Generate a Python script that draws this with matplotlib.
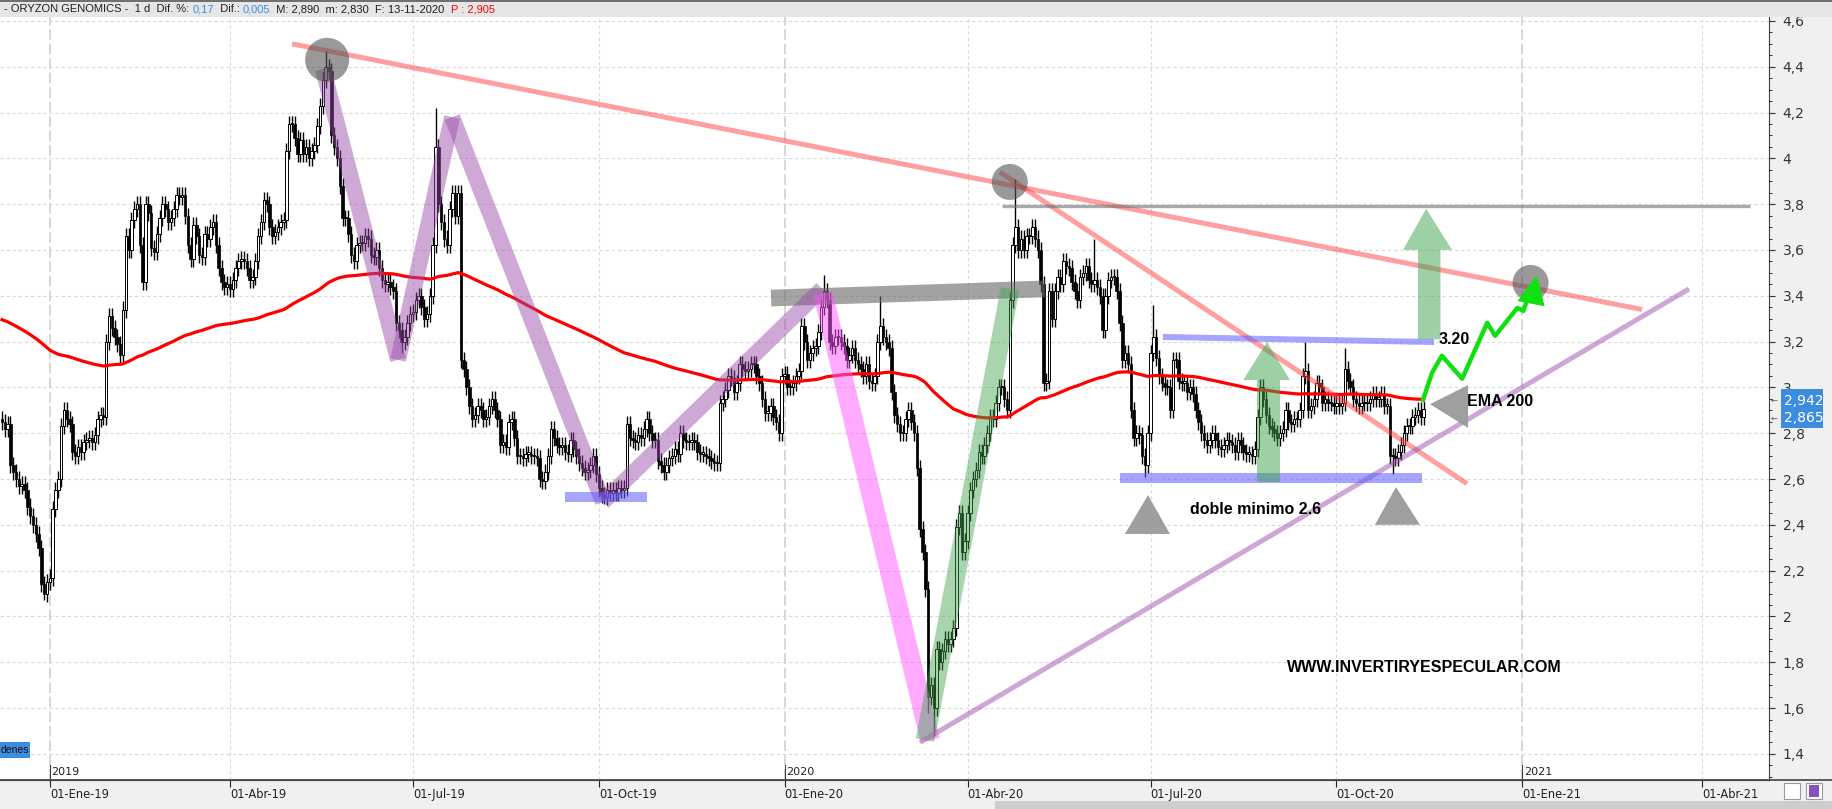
import numpy as np
import pandas as pd
import matplotlib
matplotlib.use("Agg")
import matplotlib.pyplot as plt
import matplotlib.transforms as mtransforms
from matplotlib.patches import Polygon, Rectangle


W, H = 1833, 809  # px
START = "2018-12-07"  # first bar on screen

# daily closes, one list per month
dec18 = [2.85, 2.82, 2.84, 2.66, 2.63, 2.60, 2.57, 2.58, 2.55, 2.48, 2.44, 2.40, 2.36, 2.30, 2.14, 2.10, 2.15]
jan19 = [2.17, 2.47, 2.55, 2.60, 2.83, 2.90, 2.86, 2.84, 2.72, 2.70, 2.74, 2.72, 2.76, 2.77, 2.78, 2.76, 2.79, 2.86, 2.88, 2.87, 3.20, 3.31, 3.26]
feb19 = [3.22, 3.19, 3.14, 3.34, 3.66, 3.60, 3.73, 3.78, 3.80, 3.62, 3.46, 3.80, 3.76, 3.61, 3.59, 3.67, 3.74, 3.80, 3.78, 3.72]
mar19 = [3.74, 3.78, 3.84, 3.83, 3.84, 3.75, 3.62, 3.56, 3.71, 3.66, 3.58, 3.57, 3.67, 3.65, 3.70, 3.72, 3.62, 3.52, 3.46, 3.44, 3.45]
apr19 = [3.43, 3.47, 3.52, 3.55, 3.56, 3.55, 3.52, 3.47, 3.48, 3.55, 3.66, 3.72, 3.82, 3.80, 3.70, 3.66, 3.68, 3.70, 3.72, 3.73, 4.03, 4.15]
may19 = [4.15, 4.09, 4.02, 4.08, 4.02, 4.05, 4.00, 4.03, 4.06, 4.14, 4.23, 4.34, 4.40, 4.38, 4.10, 4.05, 4.00, 3.88, 3.74, 3.74, 3.67, 3.58, 3.55]
jun19 = [3.62, 3.63, 3.63, 3.66, 3.65, 3.58, 3.57, 3.60, 3.52, 3.47, 3.45, 3.46, 3.44, 3.42, 3.28, 3.25, 3.20, 3.22, 3.28, 3.32]
jul19 = [3.33, 3.38, 3.40, 3.35, 3.30, 3.32, 3.40, 3.62, 4.05, 3.80, 3.72, 3.65, 3.62, 3.78, 3.85, 3.75, 3.85, 3.12, 3.08, 3.00, 2.92, 2.86, 2.88]
aug19 = [2.92, 2.90, 2.86, 2.87, 2.92, 2.95, 2.90, 2.86, 2.75, 2.76, 2.74, 2.85, 2.86, 2.78, 2.70, 2.70, 2.69, 2.71, 2.71, 2.70, 2.70, 2.69]
sep19 = [2.60, 2.59, 2.63, 2.70, 2.82, 2.78, 2.75, 2.74, 2.75, 2.72, 2.71, 2.77, 2.73, 2.70, 2.67, 2.65, 2.63, 2.64, 2.66, 2.70, 2.62]
oct19 = [2.56, 2.53, 2.52, 2.55, 2.54, 2.55, 2.54, 2.56, 2.55, 2.56, 2.84, 2.78, 2.77, 2.76, 2.79, 2.78, 2.82, 2.86, 2.80, 2.77, 2.77, 2.68, 2.66]
nov19 = [2.63, 2.66, 2.69, 2.70, 2.73, 2.71, 2.80, 2.77, 2.76, 2.76, 2.77, 2.76, 2.72, 2.71, 2.71, 2.70, 2.69, 2.68, 2.67, 2.67, 2.93]
dec19 = [2.95, 2.99, 3.05, 3.04, 2.98, 3.02, 3.10, 3.08, 3.07, 3.08, 3.10, 3.10, 3.05, 3.02, 2.95, 2.89, 2.89, 2.92, 2.87, 2.85, 2.80, 3.05]
jan20 = [3.06, 3.00, 3.00, 3.02, 3.05, 3.07, 3.27, 3.20, 3.12, 3.15, 3.17, 3.18, 3.24, 3.35, 3.42, 3.38, 3.20, 3.18, 3.22, 3.22, 3.20, 3.18, 3.12]
feb20 = [3.14, 3.17, 3.12, 3.10, 3.08, 3.05, 3.10, 3.03, 3.02, 3.05, 3.20, 3.27, 3.22, 3.20, 3.17, 2.98, 2.88, 2.84, 2.80, 2.80]
mar20 = [2.86, 2.90, 2.85, 2.80, 2.65, 2.38, 2.28, 2.12, 1.65, 1.70, 1.60, 1.86, 1.80, 1.85, 1.90, 1.88, 1.90, 1.95, 2.39, 2.45, 2.28, 2.33]
apr20 = [2.45, 2.55, 2.60, 2.64, 2.72, 2.70, 2.75, 2.80, 2.87, 2.86, 2.93, 3.00, 3.00, 2.95, 2.90, 3.38, 3.62, 3.70, 3.60, 3.65, 3.60, 3.66]
may20 = [3.66, 3.70, 3.65, 3.60, 3.45, 3.02, 3.03, 3.42, 3.30, 3.42, 3.48, 3.45, 3.55, 3.53, 3.52, 3.46, 3.42, 3.38, 3.48, 3.50, 3.53]
jun20 = [3.47, 3.45, 3.47, 3.44, 3.40, 3.25, 3.40, 3.47, 3.48, 3.48, 3.42, 3.28, 3.12, 3.15, 3.10, 2.90, 2.78, 2.80, 2.79, 2.70, 2.66, 2.80]
jul20 = [3.15, 3.22, 3.13, 3.05, 3.02, 3.00, 3.00, 2.90, 3.12, 3.12, 3.03, 3.02, 3.02, 2.98, 3.00, 2.97, 2.90, 2.85, 2.80, 2.77, 2.75, 2.77, 2.80]
aug20 = [2.77, 2.74, 2.73, 2.75, 2.77, 2.76, 2.75, 2.72, 2.77, 2.75, 2.72, 2.71, 2.71, 2.70, 2.73, 2.87, 3.00, 2.95, 2.88, 2.83, 2.82]
sep20 = [2.80, 2.78, 2.80, 2.82, 2.90, 2.85, 2.84, 2.86, 2.86, 2.90, 3.05, 3.07, 2.90, 2.92, 2.95, 3.02, 3.00, 2.93, 2.95, 2.93, 2.93, 2.92]
oct20 = [2.93, 2.92, 2.93, 3.08, 3.03, 3.00, 2.95, 2.93, 2.92, 2.93, 2.93, 2.93, 2.95, 2.97, 2.95, 2.95, 2.97, 2.92, 2.92, 2.70, 2.70, 2.69]
nov20 = [2.72, 2.75, 2.80, 2.83, 2.83, 2.87, 2.88, 2.90, 2.87, 2.905]

closes = (dec18 + jan19 + feb19 + mar19 + apr19 + may19 + jun19 + jul19 + aug19
          + sep19 + oct19 + nov19 + dec19 + jan20 + feb20 + mar20 + apr20 + may20
          + jun20 + jul20 + aug20 + sep20 + oct20 + nov20)

FIRST_OPEN = 2.86
EMA_SEED = 3.30  # EMA 200 at the left edge of the screen
WICK = 0.035

# shadows that stand out (bar number: price)
high_shadows = {115: 4.47, 154: 4.22, 292: 3.49, 312: 3.40, 360: 3.91, 388: 3.65,
                409: 3.36, 463: 3.20, 477: 3.17}
low_shadows = {15: 2.07, 142: 3.15, 214: 2.49, 329: 1.58, 331: 1.48, 406: 2.61, 494: 2.62}

quarter_days = ["2019-01-01", "2019-04-01", "2019-07-01", "2019-10-01", "2020-01-01",
                "2020-04-01", "2020-07-01", "2020-10-01", "2021-01-01", "2021-04-01"]
quarter_labels = ["01-Ene-19", "01-Abr-19", "01-Jul-19", "01-Oct-19", "01-Ene-20",
                  "01-Abr-20", "01-Jul-20", "01-Oct-20", "01-Ene-21", "01-Abr-21"]
year_days = ["2019-01-01", "2020-01-01", "2021-01-01"]
year_labels = ["2019", "2020", "2021"]
price_ticks = [1.4, 1.6, 1.8, 2.0, 2.2, 2.4, 2.6, 2.8, 3.0, 3.2, 3.4, 3.6, 3.8, 4.0, 4.2, 4.4, 4.6]
last_marks = [2.942, 2.865]

header = [("- ORYZON GENOMICS -  1 d  Dif. %: ", "#1e1e1e"),
          ("0,17", "#3a8ee6"),
          ("  Dif.: ", "#1e1e1e"),
          ("0,005", "#3a8ee6"),
          ("  M: 2,890  m: 2,830  F: 13-11-2020  ", "#1e1e1e"),
          ("P : 2,905", "#ff0000")]

# analyst drawings, (bar number, price)
trend_top = [(103.0, 4.50), (582.6, 3.34)]
trend_steep = [(354.5, 3.94), (520.4, 2.58)]
trend_low = [(326.1, 1.45), (599.3, 3.43)]
line_380 = [(355.2, 3.79), (621.0, 3.79)]
band_340 = [(273.2, 3.39), (370.5, 3.43)]
zigzag = [(114.0, 4.39), (140.7, 3.12), (159.9, 4.18), (213.5, 2.50), (291.3, 3.43)]
crash = [(291.6, 3.41), (329.7, 1.46)]
rebound = [(327.9, 1.46), (358.1, 3.43)]
floor_252 = [(200.0, 2.52), (229.1, 2.52)]
floor_260 = [(397.2, 2.604), (504.4, 2.604)]
roof_320 = [(412.4, 3.22), (508.7, 3.198)]
circle_pts = [(115.5, 4.43), (358.0, 3.897), (543.0, 3.456)]
arrow_mid = [(445.8, 2.587), (454.0, 2.587), (454.0, 3.032), (457.5, 3.032),
             (449.4, 3.198), (440.9, 3.032), (445.8, 3.032)]
arrow_top = [(503.0, 3.21), (511.0, 3.21), (511.0, 3.60), (515.1, 3.60),
             (505.9, 3.78), (497.7, 3.60), (503.0, 3.60)]
tri_left = [(398.9, 2.36), (414.9, 2.36), (407.1, 2.53)]
tri_right = [(487.7, 2.40), (503.7, 2.40), (495.2, 2.565)]
tri_ema = [(507.3, 2.927), (520.8, 3.01), (520.8, 2.823)]
projection = [(504.8, 2.946), (508.0, 3.064), (511.5, 3.138), (518.7, 3.038),
              (527.6, 3.282), (530.4, 3.225), (538.3, 3.347), (540.4, 3.334), (543.5, 3.44)]
projection_head = [(539.0, 3.38), (547.5, 3.36), (545.0, 3.48)]


def fx(px):
    return px / W


def fy(py):
    return 1 - py / H


def band(ax, pts, color, alpha, lw, z=5):
    xs, ys = zip(*pts)
    ax.plot(xs, ys, color=color, alpha=alpha, lw=lw, solid_capstyle="butt", zorder=z)


def main():
    c = np.array(closes)
    o = np.r_[FIRST_OPEN, c[:-1]]
    hi = np.maximum(o, c) + WICK
    lo = np.minimum(o, c) - WICK
    for k, v in high_shadows.items():
        hi[k] = v
    for k, v in low_shadows.items():
        lo[k] = v
    x = np.arange(len(c))
    ema = pd.Series([EMA_SEED] + closes).ewm(span=200, adjust=False).mean().to_numpy()[1:]

    cal = pd.bdate_range(START, "2021-06-30")
    qpos = cal.searchsorted(pd.to_datetime(quarter_days))
    ypos = cal.searchsorted(pd.to_datetime(year_days))

    fig = plt.figure(figsize=(W / 100, H / 100), dpi=100, facecolor="#f0f0f0")
    ax = fig.add_axes([0, fy(780), fx(1769), (780 - 17) / H])
    ax.set_facecolor("white")
    ax.set_xlim(-0.71, 627.7)
    ax.set_ylim(1.286, 4.617)

    # grid
    for p in price_ticks:
        ax.axhline(p, color="#d9d9d9", lw=0.8, dashes=(3, 2.5), zorder=0)
    for q in qpos:
        if q in ypos:
            ax.axvline(q, color="#cccccc", lw=1.1, dashes=(7, 2.5), zorder=0)
        else:
            ax.axvline(q, color="#d9d9d9", lw=0.8, dashes=(3, 2.5), zorder=0)

    # candles
    up = c >= o
    ax.vlines(x, lo, hi, color="black", lw=1.0, zorder=2)
    ax.bar(x[~up], (o - c)[~up], bottom=c[~up], width=0.9, color="black",
           edgecolor="black", lw=0.5, zorder=2.1)
    ax.bar(x[up], np.maximum((c - o)[up], 0.006), bottom=o[up], width=0.9, color="white",
           edgecolor="black", lw=0.7, zorder=2.1)

    ax.plot(x, ema, color="#ff0000", lw=2.3, zorder=3)

    # drawings
    band(ax, trend_top, "#ff4040", 0.5, 3.6)
    band(ax, trend_steep, "#ff4040", 0.5, 3.6)
    band(ax, trend_low, "#a050b0", 0.5, 3.6)
    band(ax, line_380, "#707070", 0.6, 2.4)
    band(ax, band_340, "#666666", 0.6, 12)
    for a, b in zip(zigzag[:-1], zigzag[1:]):
        band(ax, [a, b], "#9a4aa8", 0.47, 11.5)
    band(ax, crash, "#ff55ff", 0.5, 14)
    band(ax, rebound, "#3fa34d", 0.45, 13.5)
    band(ax, floor_252, "#5c5cff", 0.55, 7.2)
    band(ax, floor_260, "#5c5cff", 0.55, 7.2)
    band(ax, roof_320, "#5c5cff", 0.55, 4.3)
    cx, cy = zip(*circle_pts)
    ax.scatter(cx, cy, s=[1005, 672, 672], color="#555555", alpha=0.6, lw=0, zorder=6)
    for poly in (arrow_mid, arrow_top):
        ax.add_patch(Polygon(poly, closed=True, facecolor="#3fa34d", alpha=0.5,
                             edgecolor="none", zorder=5))
    for poly in (tri_left, tri_right, tri_ema):
        ax.add_patch(Polygon(poly, closed=True, facecolor="#9a9a9a", alpha=0.95,
                             edgecolor="none", zorder=6))
    px_, py_ = zip(*projection)
    ax.plot(px_, py_, color="#10e010", lw=3.2, solid_joinstyle="round", zorder=7)
    ax.add_patch(Polygon(projection_head, closed=True, facecolor="#10e010",
                         edgecolor="#10e010", lw=1.5, zorder=7))

    txt = dict(fontsize=11.5, fontweight="bold", family="Liberation Sans",
               color="black", va="center", ha="left", zorder=8)
    ax.text(510.5, 3.21, "3.20", **txt)
    ax.text(520.4, 2.94, "EMA 200", **txt)
    ax.text(422.0, 2.469, "doble minimo 2.6", **txt)
    ax.text(456.5, 1.779, "WWW.INVERTIRYESPECULAR.COM", **txt)

    # axes look
    for s in ("top", "left"):
        ax.spines[s].set_visible(False)
    ax.spines["right"].set_color("#404040")
    ax.spines["bottom"].set_color("#404040")
    ax.yaxis.tick_right()
    ax.set_yticks(price_ticks)
    ax.set_yticklabels([f"{p:g}".replace(".", ",") for p in price_ticks])
    ax.set_yticks(np.arange(1.30, 4.62, 0.05), minor=True)
    ax.tick_params(axis="y", which="major", direction="out", length=4.3, width=0.8,
                   colors="#333333", labelsize=10, pad=5.5)
    ax.tick_params(axis="y", which="minor", direction="out", length=2.5, width=0.7,
                   colors="#333333")
    ax.set_xticks(qpos)
    ax.set_xticklabels(quarter_labels, ha="left")
    ax.tick_params(axis="x", direction="out", length=5, width=0.8, colors="#222222",
                   labelsize=8.3, pad=1)

    # year marks inside the chart
    yb = mtransforms.blended_transform_factory(ax.transData, ax.transAxes)
    for p, lab in zip(ypos, year_labels):
        ax.plot([p, p], [0, 0.02], color="#404040", lw=0.8, transform=yb, zorder=4)
        ax.text(p + 0.6, 0.011, lab, transform=yb, fontsize=8, color="#222222",
                ha="left", va="center")

    # header bar
    fig.patches.append(Rectangle((0, fy(17)), 1, 17 / H, transform=fig.transFigure,
                                 facecolor="#e6e6e6", edgecolor="none", zorder=1))
    fig.patches.append(Rectangle((0, fy(1.5)), 1, 1.5 / H, transform=fig.transFigure,
                                 facecolor="#707070", edgecolor="none", zorder=1))
    renderer = fig.canvas.get_renderer()
    xp = 4.0
    for s, col in header:
        t = fig.text(fx(xp), fy(9.5), s, color=col, fontsize=8.0, family="Liberation Sans",
                     ha="left", va="center", zorder=2)
        xp += t.get_window_extent(renderer=renderer).width

    # last price boxes on the price scale
    fig.patches.append(Rectangle((fx(1781), fy(428)), fx(42), 39 / H, transform=fig.transFigure,
                                 facecolor="#3c8ce0", edgecolor="none", zorder=1))
    tb = mtransforms.blended_transform_factory(fig.transFigure, ax.transData)
    for val in last_marks:
        fig.text(fx(1784), val, f"{val:.3f}".replace(".", ","), transform=tb, color="white",
                 fontsize=10, ha="left", va="center", zorder=2)
        fig.text(fx(1771), val, "\u2190", transform=tb, color="#555555", fontsize=6,
                 ha="left", va="center", zorder=2)

    # "denes" tab bottom left
    fig.patches.append(Rectangle((0, fy(758)), fx(30), 16 / H, transform=fig.transFigure,
                                 facecolor="#3c8ce0", edgecolor="none", zorder=1))
    fig.text(fx(0.5), fy(750), "denes", fontsize=7.5, color="#111111", ha="left",
             va="center", family="Liberation Sans", zorder=2)

    # bottom line, scrollbar, icons
    fig.add_artist(plt.Line2D([0, 1], [fy(780), fy(780)], transform=fig.transFigure,
                              color="#404040", lw=1.2))
    fig.patches.append(Rectangle((0, 0), 1, 8 / H, transform=fig.transFigure,
                                 facecolor="#f0f0f0", edgecolor="none", zorder=1))
    fig.patches.append(Rectangle((fx(995), 0), 1, 8 / H, transform=fig.transFigure,
                                 facecolor="#cdcdcd", edgecolor="none", zorder=1))
    fig.patches.append(Rectangle((fx(1784), fy(799)), fx(16), 16 / H, transform=fig.transFigure,
                                 facecolor="white", edgecolor="#9a9a9a", lw=0.8, zorder=1))
    fig.patches.append(Rectangle((fx(1806), fy(799)), fx(16), 16 / H, transform=fig.transFigure,
                                 facecolor="white", edgecolor="#9a9a9a", lw=0.8, zorder=1))
    fig.patches.append(Rectangle((fx(1809), fy(797)), fx(10), 12 / H, transform=fig.transFigure,
                                 facecolor="#8a4fc0", edgecolor="none", zorder=1))

    fig.savefig("out.png", dpi=100, facecolor=fig.get_facecolor())


if __name__ == "__main__":
    main()
